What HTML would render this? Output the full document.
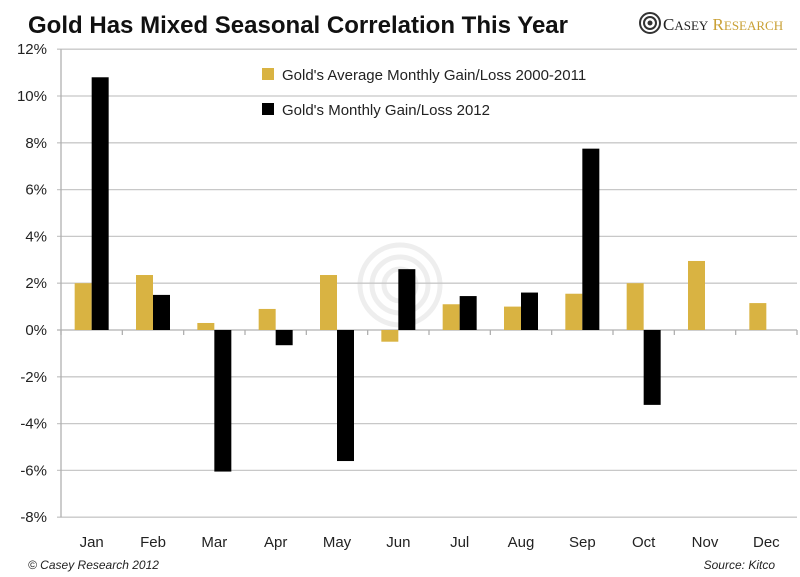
<!DOCTYPE html>
<html><head><meta charset="utf-8"><style>
body{margin:0;background:#fff;}
svg{display:block;font-family:"Liberation Sans",sans-serif;}
</style></head><body>
<svg width="800" height="577" viewBox="0 0 800 577">
<text x="28" y="33" font-size="24" font-weight="bold" fill="#111" textLength="540" lengthAdjust="spacingAndGlyphs">Gold Has Mixed Seasonal Correlation This Year</text>
<g>
<circle cx="650" cy="23" r="10" fill="none" stroke="#333" stroke-width="2"/>
<circle cx="650" cy="23" r="6" fill="none" stroke="#333" stroke-width="2"/>
<circle cx="650" cy="23" r="2.5" fill="#333"/>
<text x="663" y="30" font-family="Liberation Serif,serif" font-size="17" fill="#222">C<tspan font-size="13">ASEY</tspan> <tspan fill="#c9a035" font-size="17">R</tspan><tspan fill="#c9a035" font-size="13">ESEARCH</tspan></text>
</g>
<g fill="none" stroke="#eee" stroke-width="5">
<circle cx="400" cy="285" r="40"/><circle cx="400" cy="285" r="28"/><circle cx="400" cy="285" r="16"/>
</g>
<g id="grid"></g>
<g id="bars"></g>
<g id="labels" font-size="14" fill="#222"></g>
<g font-size="15" fill="#222">
<rect x="262" y="68" width="12" height="12" fill="#d9b342"/>
<text x="282" y="80">Gold's Average Monthly Gain/Loss 2000-2011</text>
<rect x="262" y="103" width="12" height="12" fill="#000"/>
<text x="282" y="115">Gold's Monthly Gain/Loss 2012</text>
</g>
<text x="28" y="569" font-size="12" font-style="italic" fill="#222">© Casey Research 2012</text>
<text x="775" y="569" font-size="12" font-style="italic" fill="#222" text-anchor="end">Source: Kitco</text>
</svg>
<script>
const months=["Jan","Feb","Mar","Apr","May","Jun","Jul","Aug","Sep","Oct","Nov","Dec"];
const avgGain=[2.0,2.35,0.3,0.9,2.35,-0.5,1.1,1.0,1.55,2.0,2.95,1.15];
const gain2012=[10.8,1.5,-6.05,-0.65,-5.6,2.6,1.45,1.6,7.75,-3.2,null,null];
const yTicks=[12,10,8,6,4,2,0,-2,-4,-6,-8];
const NS="http://www.w3.org/2000/svg";
const X0=61,X1=797,Y0=330,PX=23.4;
const y=v=>Y0-v*PX;
const step=(X1-X0)/months.length;
const xc=i=>X0+step*(i+0.5);
const grid=document.getElementById('grid'),bars=document.getElementById('bars'),labels=document.getElementById('labels');
function mk(tag,attrs,parent){const e=document.createElementNS(NS,tag);for(const k in attrs)e.setAttribute(k,attrs[k]);parent.appendChild(e);return e;}
yTicks.forEach(t=>{
 const l=mk('line',{x1:X0-4,x2:X1,y1:y(t),y2:y(t),stroke:t===0?'#b0b0b0':'#c8c8c8','stroke-width':1.3},grid);
 
 
 const tx=mk('text',{x:X0-14,y:y(t)+5,'text-anchor':'end','font-size':15},labels);
 tx.textContent=t+'%';
 
 
});
const ax=mk('line',{x1:X0,x2:X0,y1:y(12),y2:y(-8),stroke:'#b0b0b0','stroke-width':1.3},grid);


for(let i=0;i<=months.length;i++){
 const tk=mk('line',{x1:X0+step*i,x2:X0+step*i,y1:Y0,y2:Y0+5,stroke:'#b0b0b0','stroke-width':1.3},grid);
 
 
}
const W=17;
months.forEach((m,i)=>{
 const c=xc(i);
 const a=avgGain[i];
 const r=mk('rect',{x:c-W,y:Math.min(y(a),Y0),width:W,height:Math.abs(y(a)-Y0),fill:'#d9b342'},bars);
 
 
 const b=gain2012[i];
 if(b!==null){
  const r2=mk('rect',{x:c,y:Math.min(y(b),Y0),width:W,height:Math.abs(y(b)-Y0),fill:'#000'},bars);
  
  
 }
 const t=mk('text',{x:c,y:547,'text-anchor':'middle','font-size':15},labels);
 t.textContent=m;
 
 
});
</script>
</body></html>
